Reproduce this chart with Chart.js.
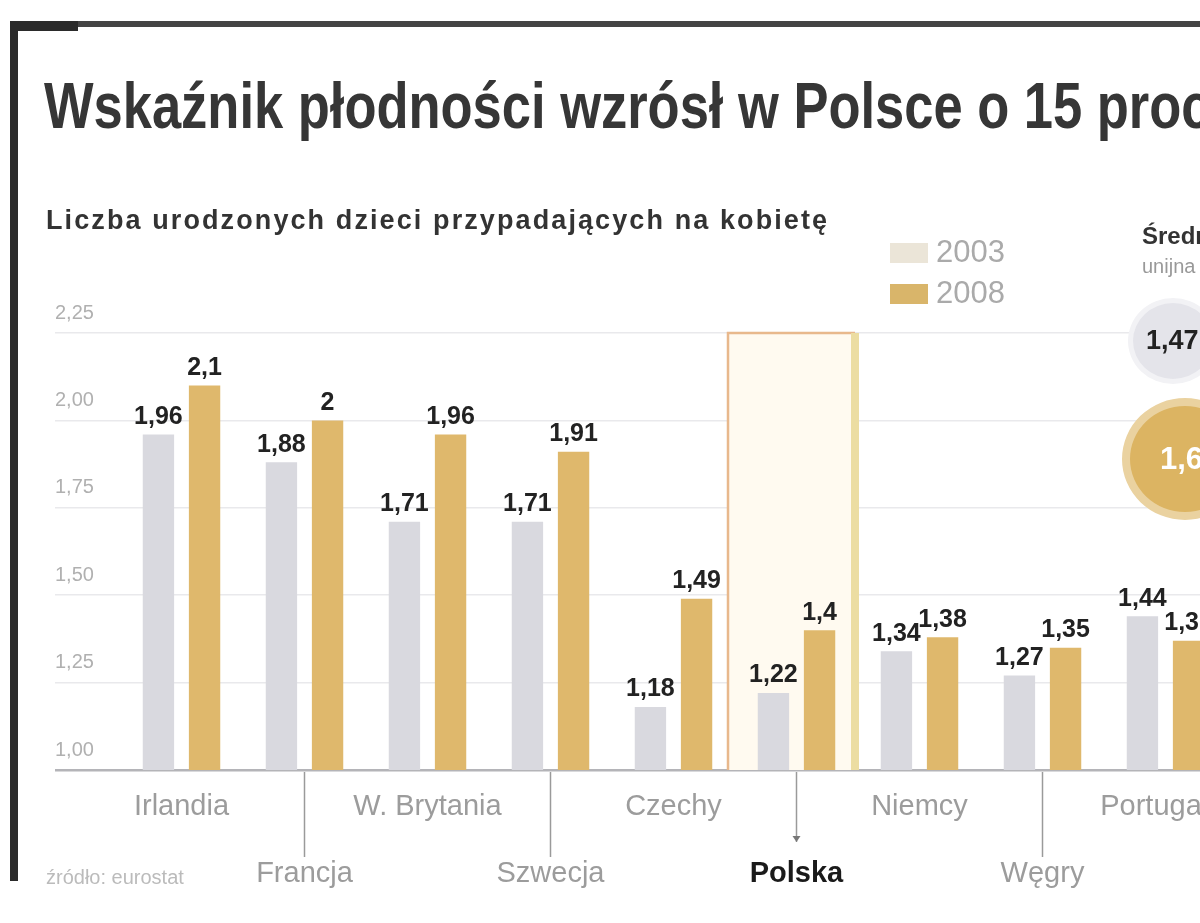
<!DOCTYPE html>
<html lang="pl">
<head>
<meta charset="utf-8">
<title>Wskaźnik płodności</title>
<script src="https://cdn.jsdelivr.net/npm/chart.js@4/dist/chart.umd.min.js"></script>
<style>
    html, body { margin: 0; padding: 0; background: #fff; width: 1200px; height: 923px; overflow: hidden; }
    body { position: relative; font-family: "Liberation Sans", Arial, sans-serif; }
    #wrap { position: absolute; left: 0; top: 0; width: 1240px; height: 923px; }
    .bar { position: absolute; background: #2b2b2b; }
    h1 { position: absolute; left: 44px; top: 69px; margin: 0; font-size: 64px; font-weight: bold; color: #363636; white-space: nowrap; transform: scaleX(0.82); transform-origin: left top; }
    #sub { position: absolute; left: 46px; top: 205px; font-size: 27px; font-weight: bold; color: #333; white-space: nowrap; letter-spacing: 2.1px; }
    .sw { position: absolute; left: 890px; width: 38px; height: 20px; }
    .lg { position: absolute; left: 936px; font-size: 31px; color: #aaa; }
    #avg1 { position: absolute; left: 1142px; top: 222px; font-size: 24px; font-weight: bold; color: #333; white-space: nowrap; }
    #avg2 { position: absolute; left: 1142px; top: 255px; font-size: 20px; color: #999; white-space: nowrap; }
    .circ { position: absolute; border-radius: 50%; box-sizing: border-box; }
    #src { position: absolute; left: 46px; top: 866px; font-size: 20px; color: #bbb; }
</style>
</head>
<body>
<div id="wrap"><canvas id="graph"></canvas></div>

<div class="bar" style="left:10px;top:21px;width:1200px;height:6px;background:#444"></div>
<div class="bar" style="left:10px;top:21px;width:8px;height:860px"></div>
<div class="bar" style="left:10px;top:21px;width:68px;height:10px"></div>

<h1>Wskaźnik płodności wzrósł w Polsce o 15 proc.</h1>
<div id="sub">Liczba urodzonych dzieci przypadających na kobietę</div>

<div class="sw" style="top:243px;background:#ebe5d8"></div>
<div class="lg" style="top:234px">2003</div>
<div class="sw" style="top:284px;background:#d9b56a"></div>
<div class="lg" style="top:275px">2008</div>

<div id="avg1">Średnia</div>
<div id="avg2">unijna</div>
<div class="circ" style="left:1128px;top:298px;width:90px;height:86px;background:#e4e4ea;border:5px solid #f2f2f5"></div>
<div style="position:absolute;left:1146px;top:325px;font-size:27px;font-weight:bold;color:#222">1,47</div>
<div class="circ" style="left:1122px;top:398px;width:126px;height:122px;background:#dcb462;border:8px solid #ead2a0"></div>
<div style="position:absolute;left:1160px;top:441px;font-size:31px;font-weight:bold;color:#fff">1,60</div>

<div id="src">źródło: eurostat</div>

<script>
const categories = ['Irlandia', 'Francja', 'W. Brytania', 'Szwecja', 'Czechy', 'Polska', 'Niemcy', 'Węgry', 'Portugalia'];
const values2003 = [1.96, 1.88, 1.71, 1.71, 1.18, 1.22, 1.34, 1.27, 1.44];
const values2008 = [2.10, 2.00, 1.96, 1.91, 1.49, 1.40, 1.38, 1.35, 1.37];
const yTicks = [1.00, 1.25, 1.50, 1.75, 2.00, 2.25];
const highlighted = 'Polska';

function formatValue(v) {
    return String(Math.round(v * 100) / 100).replace('.', ',');
}

// Polska box + leader lines under the axis
const decorations = {
    id: 'decorations',
    beforeDatasetsDraw(chart) {
        const ctx = chart.ctx;
        const x = chart.scales.x;
        const area = chart.chartArea;
        const i = categories.indexOf(highlighted);
        const half = (x.getPixelForValue(1) - x.getPixelForValue(0)) / 2;
        const left = x.getPixelForValue(i) - half - 7;
        const right = x.getPixelForValue(i) + half - 3;

        ctx.save();
        ctx.fillStyle = '#fffaf0';
        ctx.fillRect(left, area.top, right - left, area.bottom - area.top);
        ctx.strokeStyle = '#e8b88c';
        ctx.lineWidth = 2.5;
        ctx.beginPath();
        ctx.moveTo(left, area.bottom);
        ctx.lineTo(left, area.top);
        ctx.lineTo(right, area.top);
        ctx.stroke();
        ctx.strokeStyle = '#ecdda2';
        ctx.lineWidth = 8;
        ctx.beginPath();
        ctx.moveTo(right, area.top);
        ctx.lineTo(right, area.bottom);
        ctx.stroke();
        ctx.restore();
    },
    afterDraw(chart) {
        const ctx = chart.ctx;
        const x = chart.scales.x;
        const area = chart.chartArea;
        ctx.save();
        ctx.strokeStyle = '#9a9a9a';
        ctx.lineWidth = 1.5;
        for (let i = 1; i < categories.length; i += 2) {
            const px = x.getPixelForValue(i);
            const end = categories[i] === highlighted ? 842 : 857;
            ctx.beginPath();
            ctx.moveTo(px, area.bottom + 2);
            ctx.lineTo(px, end);
            ctx.stroke();
            if (categories[i] === highlighted) {
                ctx.fillStyle = '#777';
                ctx.beginPath();
                ctx.moveTo(px - 4, end - 6);
                ctx.lineTo(px + 4, end - 6);
                ctx.lineTo(px, end);
                ctx.fill();
            }
        }
        ctx.restore();
    }
};

const valueLabels = {
    id: 'valueLabels',
    afterDatasetsDraw(chart) {
        const ctx = chart.ctx;
        ctx.save();
        ctx.font = 'bold 25px "Liberation Sans", Arial, sans-serif';
        ctx.fillStyle = '#222';
        ctx.textAlign = 'center';
        ctx.textBaseline = 'bottom';
        chart.data.datasets.forEach(function (ds, d) {
            chart.getDatasetMeta(d).data.forEach(function (bar, i) {
                ctx.fillText(formatValue(ds.data[i]), bar.x, bar.y - 5);
            });
        });
        ctx.restore();
    }
};

new Chart(document.getElementById('graph'), {
    type: 'bar',
    data: {
        labels: categories,
        datasets: [
            { label: '2003', data: values2003, backgroundColor: '#d9d9df', barPercentage: 0.68, categoryPercentage: 0.75 },
            { label: '2008', data: values2008, backgroundColor: '#dfb86c', barPercentage: 0.68, categoryPercentage: 0.75 }
        ]
    },
    options: {
        responsive: true,
        maintainAspectRatio: false,
        animation: false,
        layout: { padding: { top: 333, left: 55, right: 13, bottom: 0 } },
        plugins: { legend: { display: false }, tooltip: { enabled: false } },
        scales: {
            x: {
                grid: { display: false, drawTicks: false },
                border: { display: false },
                afterFit: function (scale) { scale.height = 153; },
                ticks: {
                    autoSkip: false,
                    maxRotation: 0,
                    minRotation: 0,
                    padding: 3,
                    callback: function (value, index) {
                        return index % 2 === 0 ? categories[index] : ['', categories[index]];
                    },
                    color: function (c) { return categories[c.index] === highlighted ? '#1a1a1a' : '#9c9c9c'; },
                    font: function (c) {
                        return {
                            family: '"Liberation Sans", Arial, sans-serif',
                            size: 29,
                            weight: categories[c.index] === highlighted ? 'bold' : 'normal',
                            lineHeight: 67 / 29
                        };
                    }
                }
            },
            y: {
                min: 1,
                max: 2.25,
                afterBuildTicks: function (scale) {
                    scale.ticks = yTicks.map(function (v) { return { value: v }; });
                },
                afterFit: function (scale) { scale.width = 65; },
                border: { display: false },
                grid: {
                    drawTicks: true,
                    tickLength: 65,
                    color: function (c) { return c.tick && c.tick.value === 1 ? '#b4b4b8' : '#e9e9ec'; },
                    lineWidth: function (c) { return c.tick && c.tick.value === 1 ? 2.5 : 1.5; }
                },
                ticks: {
                    crossAlign: 'far',
                    padding: 0,
                    labelOffset: -20,
                    color: '#b0b0b0',
                    font: { family: '"Liberation Sans", Arial, sans-serif', size: 20 },
                    callback: function (v) { return v.toFixed(2).replace('.', ','); }
                }
            }
        }
    },
    plugins: [decorations, valueLabels]
});
</script>
</body>
</html>
